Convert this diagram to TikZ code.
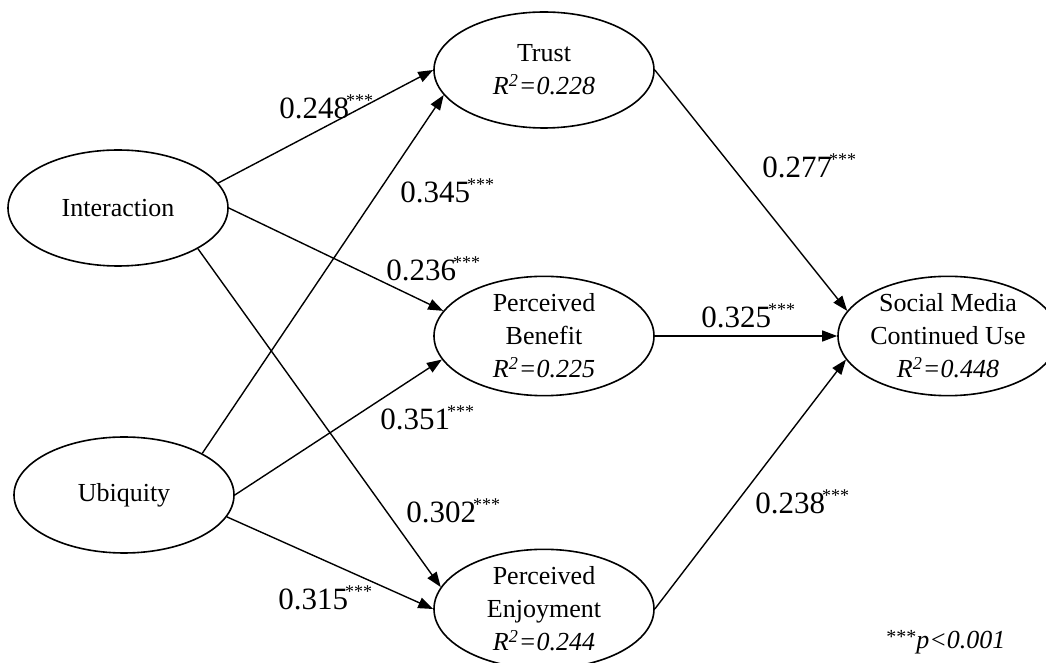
\documentclass[tikz,border=0pt]{standalone}
\usepackage{fontspec}
\setmainfont{Liberation Serif}
\usetikzlibrary{shapes.geometric, arrows.meta, positioning}
\newcommand{\stars}{\kern-1.5pt\raisebox{6pt}{\fontsize{9}{10}\selectfont ***}}

\begin{document}
\begin{tikzpicture}[
  x=0.5pt, y=-0.5pt,
  every node/.style={align=center, inner sep=0pt},
  construct/.style={ellipse, draw=black, line width=0.8pt, minimum width=110pt, minimum height=58pt, font=\fontsize{13}{16.5}\selectfont},
  coef/.style     ={anchor=base west, font=\fontsize{15.5}{18}\selectfont},
  arr/.style      ={-{Triangle[length=7.5pt, width=5.5pt]}, draw=black, line width=0.7pt}
]
\useasboundingbox (0,0) rectangle (1046,663);

% Col 1: exogenous constructs
\node[construct] (int) at (118,208) {Interaction};
\node[construct] (ubi) at (124,495) {Ubiquity};

% Col 2: mediators
\node[construct] (trust) at (544,70)  {Trust\\\textit{R\textsuperscript{2}=0.228}};
\node[construct] (ben)   at (544,336) {Perceived\\Benefit\\\textit{R\textsuperscript{2}=0.225}};
\node[construct] (enj)   at (544,609) {Perceived\\Enjoyment\\\textit{R\textsuperscript{2}=0.244}};

% Col 3: outcome
\node[construct] (smcu) at (948,336) {Social Media\\Continued Use\\\textit{R\textsuperscript{2}=0.448}};

% Paths
\draw[arr] (int.14)    -- (trust.west);
\draw[arr] (int.east)  -- (ben.166);
\draw[arr] (int.-27)   -- (enj.168);
\draw[arr] (ubi.28)    -- (trust.-166);
\draw[arr] (ubi.east)  -- (ben.-167);
\draw[arr] (ubi.-12)   -- (enj.west);
\draw[arr] (trust.east) -- (smcu.166);
\draw[arr] (ben.east)   -- (smcu.west);
\draw[arr] (enj.east)   -- (smcu.-167);

% Path coefficients
\node[coef] (c-int-trust) at (279,119) {0.248\stars};
\node[coef] (c-ubi-trust) at (400,203) {0.345\stars};
\node[coef] (c-int-ben)   at (386,281) {0.236\stars};
\node[coef] (c-ubi-ben)   at (380,430) {0.351\stars};
\node[coef] (c-int-enj)   at (406,523) {0.302\stars};
\node[coef] (c-ubi-enj)   at (278,610) {0.315\stars};
\node[coef] (c-trust-use) at (762,178) {0.277\stars};
\node[coef] (c-ben-use)   at (701,328) {0.325\stars};
\node[coef] (c-enj-use)   at (755,514) {0.238\stars};

% Significance note
\node[anchor=base west, font=\fontsize{13}{16}\selectfont] (note) at (886,649)
  {\raisebox{2.5pt}{\fontsize{10}{11}\selectfont ***}\textit{p<0.001}};
\end{tikzpicture}
\end{document}
